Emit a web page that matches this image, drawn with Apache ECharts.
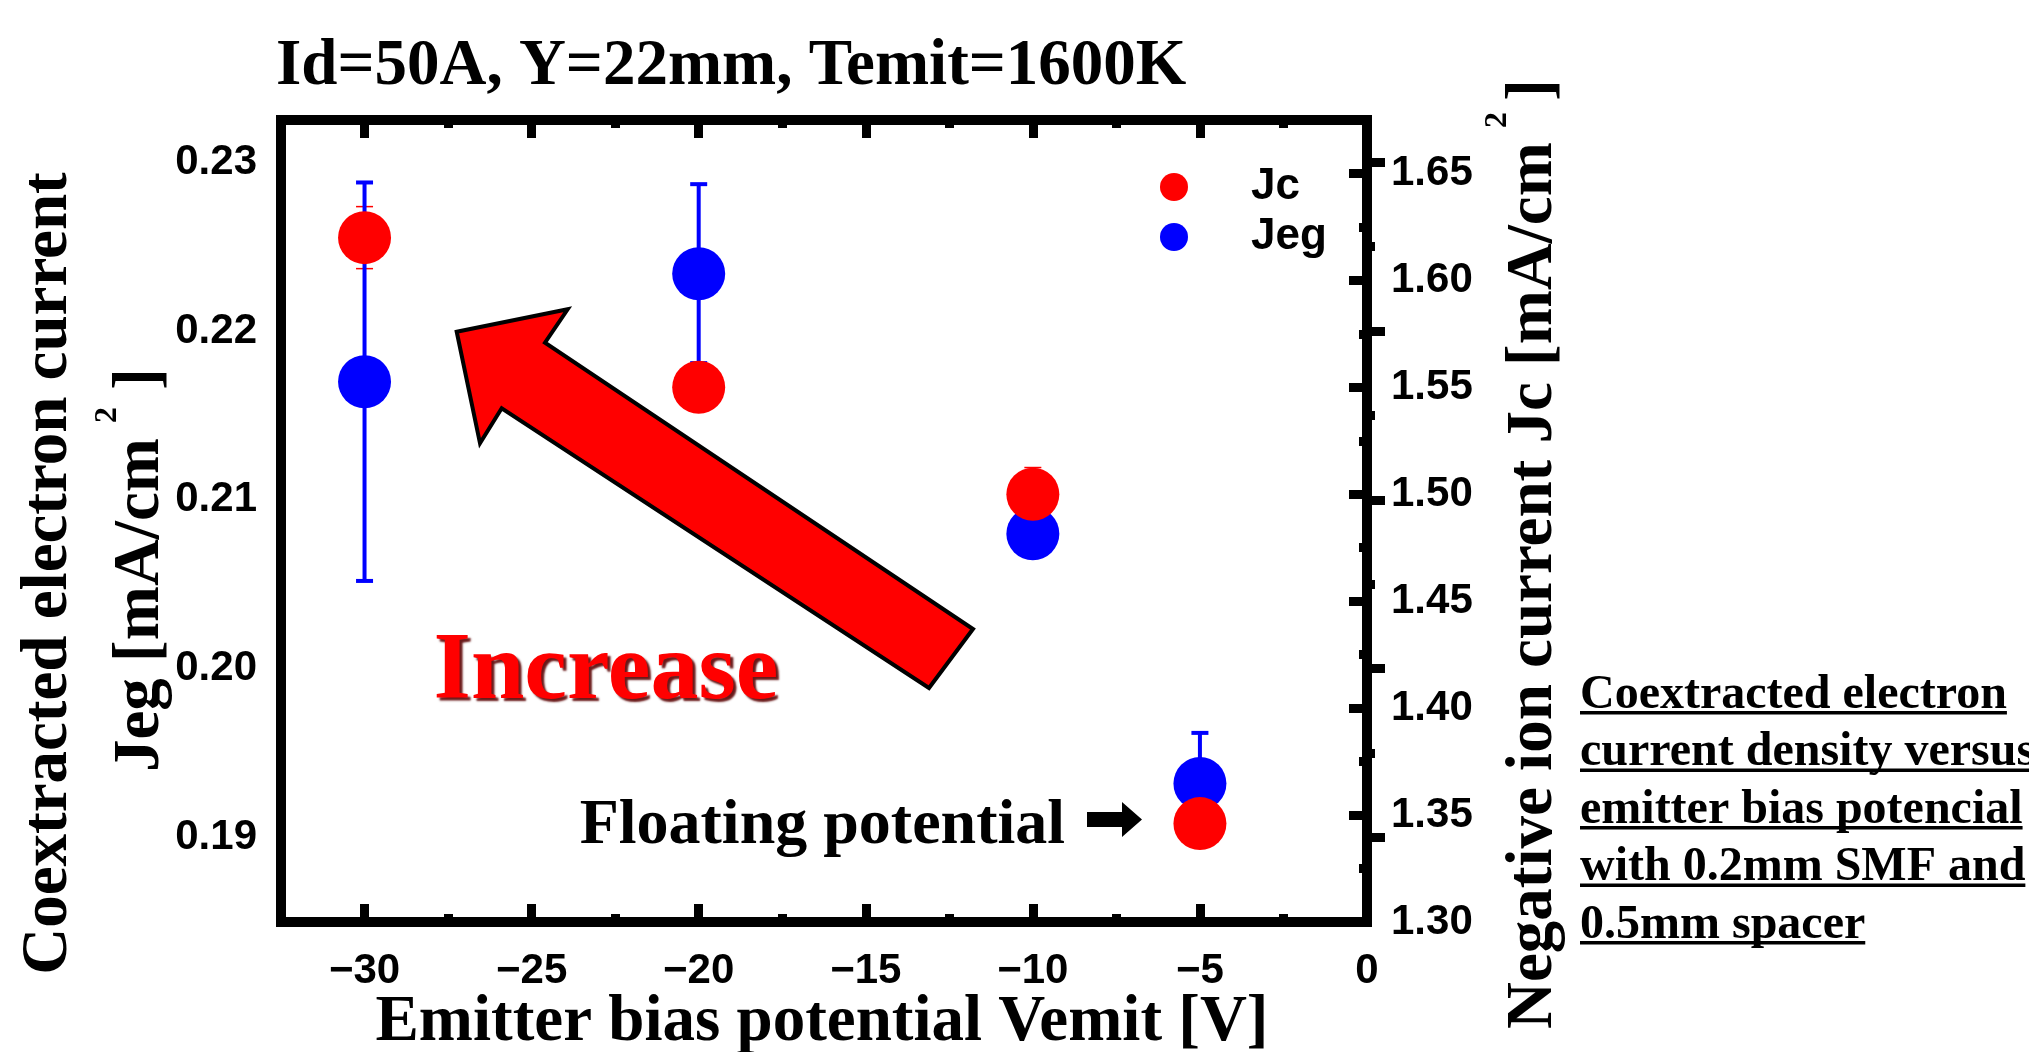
<!DOCTYPE html>
<html>
<head>
<meta charset="utf-8">
<script src="https://cdn.jsdelivr.net/npm/echarts@6/dist/echarts.min.js"></script>
<style>
html,body{margin:0;padding:0;background:#ffffff;}
#chart{width:2029px;height:1052px;}
</style>
</head>
<body>
<div id="chart"></div>
<script>
// ---------------- data ----------------
const vemit   = [-30, -20, -10, -5];
const jeg     = [0.2170, 0.2234, 0.2080, 0.1932];
const jegErr  = [0.0118, 0.0053, 0, 0.0030];
const jc      = [1.620, 1.550, 1.500, 1.346];
const jcErr   = [0.0145, 0, 0.0125, 0];

const xMajorTicks = [-30, -25, -20, -15, -10, -5, 0];
const xMinorTicks = [-27.5, -22.5, -17.5, -12.5, -7.5, -2.5];
const jegMajorTicks = [0.19, 0.20, 0.21, 0.22, 0.23];
const jegMinorTicks = [0.195, 0.205, 0.215, 0.225];
const jcMajorTicks = [1.30, 1.35, 1.40, 1.45, 1.50, 1.55, 1.60, 1.65];
const jcMinorTicks = [1.325, 1.375, 1.425, 1.475, 1.525, 1.575, 1.625];

const titleText = 'Id=50A, Y=22mm, Temit=1600K';
const xTitle = 'Emitter bias potential Vemit [V]';
const leftTitle1 = 'Coextracted electron current';
const leftTitle2 = 'Jeg [mA/cm';
const rightTitle = 'Negative ion current Jc [mA/cm';
const captionLines = ['Coextracted electron', 'current density versus', 'emitter bias potencial', 'with 0.2mm SMF and', '0.5mm spacer'];

// ---------------- style ----------------
const SERIF = '"Liberation Serif", "Times New Roman", serif';
const SANS = '"Liberation Sans", Arial, sans-serif';
const RED = '#ff0000', BLUE = '#0000ff';
const G = {left: 281, top: 120, width: 1086, height: 802};

const chart = echarts.init(document.getElementById('chart'), null, {renderer: 'canvas'});

function minusFmt(v) { return v < 0 ? '\u2212' + Math.abs(v) : String(v); }

function valueAxis(base) {
  return Object.assign({
    type: 'value',
    offset: 0,
    axisLine: {show: false},
    splitLine: {show: false},
    axisLabel: {show: false},
    axisTick: {show: false}
  }, base);
}

const tickStyle = {color: '#000', width: 9};
const labelFont = {fontFamily: SANS, fontWeight: 'bold', fontSize: 42, color: '#000'};

const xAxes = [
  valueAxis({position: 'bottom', min: -32.5, max: 0,
    axisLabel: Object.assign({show: true, customValues: xMajorTicks, formatter: minusFmt, margin: 28}, labelFont),
    axisTick: {show: true, customValues: xMajorTicks.filter(v => v !== 0), inside: true, length: 18, lineStyle: tickStyle}}),
  valueAxis({position: 'bottom', min: -32.5, max: 0,
    axisTick: {show: true, customValues: xMinorTicks, inside: true, length: 8, lineStyle: tickStyle}}),
  valueAxis({position: 'top', min: -32.5, max: 0,
    axisTick: {show: true, customValues: xMajorTicks.filter(v => v !== 0), inside: true, length: 18, lineStyle: tickStyle}}),
  valueAxis({position: 'top', min: -32.5, max: 0,
    axisTick: {show: true, customValues: xMinorTicks, inside: true, length: 8, lineStyle: tickStyle}})
];

const yAxes = [
  valueAxis({position: 'left', min: 0.185, max: 0.2325,
    axisLabel: Object.assign({show: true, customValues: jegMajorTicks, formatter: v => v.toFixed(2), margin: 24}, labelFont),
    axisTick: {show: true, customValues: jegMajorTicks, inside: true, length: 18, lineStyle: tickStyle}}),
  valueAxis({position: 'right', min: 1.30, max: 1.675,
    axisLabel: Object.assign({show: true, customValues: jcMajorTicks, formatter: v => v.toFixed(2), margin: 24}, labelFont),
    axisTick: {show: true, customValues: jcMajorTicks, inside: true, length: 18, lineStyle: tickStyle}}),
  valueAxis({position: 'left', min: 0.185, max: 0.2325,
    axisTick: {show: true, customValues: jegMinorTicks, inside: true, length: 8, lineStyle: tickStyle}}),
  valueAxis({position: 'right', min: 1.30, max: 1.675,
    axisTick: {show: true, customValues: jcMinorTicks, inside: true, length: 8, lineStyle: tickStyle}})
];

function errRender(lineW, capW, capH, color) {
  return function (params, api) {
    const x = api.value(0), y = api.value(1), e = api.value(2);
    if (!e) return;
    const top = api.coord([x, y + e]);
    const bot = api.coord([x, y - e]);
    const h = capW / 2;
    return {
      type: 'group',
      children: [
        {type: 'line', shape: {x1: top[0], y1: top[1], x2: bot[0], y2: bot[1]}, style: {stroke: color, lineWidth: lineW}},
        {type: 'line', shape: {x1: top[0] - h, y1: top[1], x2: top[0] + h, y2: top[1]}, style: {stroke: color, lineWidth: capH}},
        {type: 'line', shape: {x1: bot[0] - h, y1: bot[1], x2: bot[0] + h, y2: bot[1]}, style: {stroke: color, lineWidth: capH}}
      ]
    };
  };
}

// text measurement for underlines
const mctx = document.createElement('canvas').getContext('2d');
function textW(t, font) { mctx.font = font; return mctx.measureText(t).width; }

const F65 = 'bold 65px ' + SERIF;
const graphics = [];
function txt(x, y, text, font, opts) {
  opts = opts || {};
  graphics.push({
    type: 'text', x: x, y: y, rotation: opts.rotation || 0, silent: true, z: 100,
    style: Object.assign({text: text, font: font, fill: opts.fill || '#000',
      align: opts.align || 'left', verticalAlign: 'middle'}, opts.extra || {})
  });
}

// title
txt(276, 67.5, titleText, F65);
// x axis title
txt(822, 1023, xTitle, F65, {align: 'center'});
// left titles (rotated, reading bottom-to-top)
const ROT = Math.PI / 2;
txt(49, 573.5, leftTitle1, F65, {rotation: ROT, align: 'center'});
txt(141, 772, leftTitle2, F65, {rotation: ROT, align: 'left'});
txt(108, 415, '2', 'bold 32px ' + SERIF, {rotation: ROT, align: 'center'});
txt(141, 379, ']', F65, {rotation: ROT, align: 'center'});
// right title
txt(1534, 1029, rightTitle, F65, {rotation: ROT, align: 'left'});
txt(1498, 120, '2', 'bold 32px ' + SERIF, {rotation: ROT, align: 'center'});
txt(1534, 90, ']', F65, {rotation: ROT, align: 'center'});

// big red arrow
graphics.push({
  type: 'polygon', silent: true, z: 50,
  shape: {points: [[456.7, 331.7], [567.7, 309.3], [545, 342.7], [973, 629], [929, 688], [501.7, 408.3], [480, 443.3]]},
  style: {fill: RED, stroke: '#000', lineWidth: 4, lineJoin: 'miter'}
});
txt(606, 673.5, 'Increase', 'bold 96px ' + SERIF, {align: 'center', fill: RED,
  extra: {textShadowColor: 'rgba(90,0,0,0.9)', textShadowBlur: 2, textShadowOffsetX: 3, textShadowOffsetY: 3}});

// floating potential
txt(1065, 826.5, 'Floating potential', 'bold 64px ' + SERIF, {align: 'right'});
graphics.push({
  type: 'polygon', silent: true, z: 50,
  shape: {points: [[1087, 812], [1122, 812], [1122, 802], [1142, 819.5], [1122, 837], [1122, 827], [1087, 827]]},
  style: {fill: '#000'}
});

// caption (underlined)
const F48 = 'bold 48px ' + SERIF;
captionLines.forEach((line, i) => {
  const base = 707 + 57.5 * i;
  txt(1580, base - 11.5, line, F48);
  graphics.push({type: 'rect', silent: true, z: 100,
    shape: {x: 1580, y: base + 4, width: textW(line, F48), height: 3.5},
    style: {fill: '#000'}});
});

const option = {
  animation: false,
  backgroundColor: '#ffffff',
  grid: {left: G.left, top: G.top, width: G.width, height: G.height, show: true,
    borderColor: '#000', borderWidth: 10, backgroundColor: 'transparent', containLabel: false},
  xAxis: xAxes,
  yAxis: yAxes,
  legend: {
    data: ['Jc', 'Jeg'], orient: 'vertical', left: 1160, top: 165,
    icon: 'circle', itemWidth: 28, itemHeight: 28, itemGap: 6, padding: 0,
    textStyle: {fontFamily: SANS, fontWeight: 'bold', fontSize: 44, color: '#000', padding: [0, 0, 0, 58]}
  },
  graphic: graphics,
  series: [
    {name: 'Jc error', type: 'custom', xAxisIndex: 0, yAxisIndex: 1,
      renderItem: errRender(1.5, 17, 1.5, RED), encode: {x: 0, y: 1},
      data: vemit.map((x, i) => [x, jc[i], jcErr[i]])},
    {name: 'Jeg error', type: 'custom', xAxisIndex: 0, yAxisIndex: 0,
      renderItem: errRender(4, 17, 4, BLUE), encode: {x: 0, y: 1},
      data: vemit.map((x, i) => [x, jeg[i], jegErr[i]])},
    {name: 'Jeg', type: 'scatter', xAxisIndex: 0, yAxisIndex: 0, symbol: 'circle', symbolSize: 53,
      itemStyle: {color: BLUE, opacity: 1}, data: vemit.map((x, i) => [x, jeg[i]])},
    {name: 'Jc', type: 'scatter', xAxisIndex: 0, yAxisIndex: 1, symbol: 'circle', symbolSize: 53,
      itemStyle: {color: RED, opacity: 1}, data: vemit.map((x, i) => [x, jc[i]])}
  ]
};
chart.setOption(option);
</script>
</body>
</html>
